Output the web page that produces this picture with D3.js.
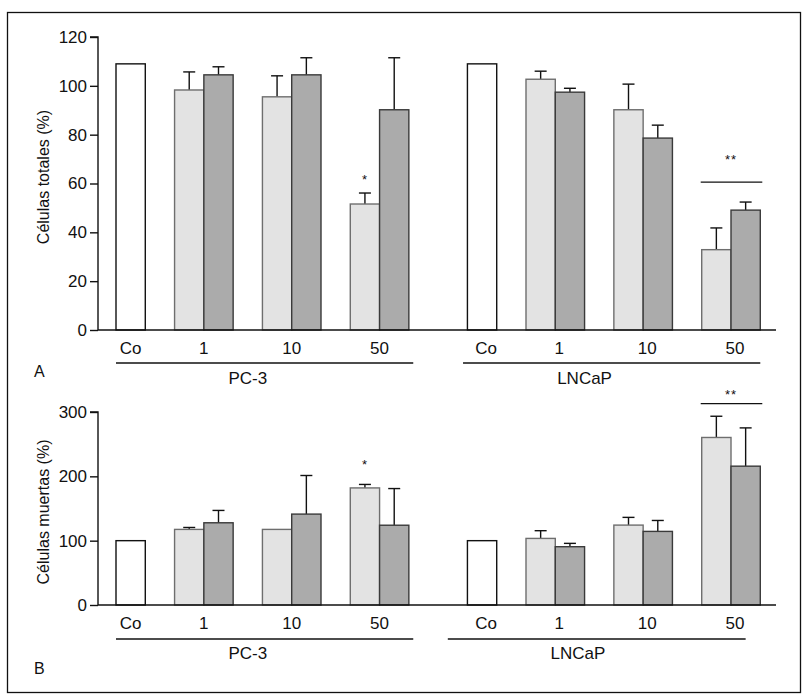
<!DOCTYPE html>
<html><head><meta charset="utf-8">
<script src="https://cdn.jsdelivr.net/npm/d3@7"></script>
<style>body{margin:0;background:#fff}svg{display:block}text{font-family:"Liberation Sans",Arial,sans-serif;fill:#111}</style>
</head><body><svg id="c" width="809" height="700"></svg>
<script>
// ---- data ----
const cellLines = ["PC-3", "LNCaP"];
const doses = ["Co", "1", "10", "50"];
// Panel A: Células totales (%)
const totalControl = [109, 109];
const totalLightPC3 = [98.3, 95.5, 51.6];
const totalLightPC3Err = [7.4, 8.6, 4.5];
const totalDarkPC3 = [104.5, 104.5, 90.2];
const totalDarkPC3Err = [3.3, 7.0, 21.3];
const totalLightLNCaP = [102.7, 90.2, 32.9];
const totalLightLNCaPErr = [3.3, 10.5, 8.9];
const totalDarkLNCaP = [97.4, 78.6, 49.1];
const totalDarkLNCaPErr = [1.6, 5.3, 3.3];
const totalTicks = [0, 20, 40, 60, 80, 100, 120];
// Panel B: Células muertas (%)
const deadControl = [100, 100];
const deadLightPC3 = [117.5, 117.5, 182];
const deadLightPC3Err = [3, 0, 5.4];
const deadDarkPC3 = [127.8, 141.3, 124];
const deadDarkPC3Err = [19.2, 60, 57];
const deadLightLNCaP = [103.5, 124.2, 260.4];
const deadLightLNCaPErr = [12, 12, 33];
const deadDarkLNCaP = [90.6, 114.4, 215.8];
const deadDarkLNCaPErr = [5.2, 17, 59.5];
const deadTicks = [0, 100, 200, 300];

const FS = 17;
const svg = d3.select("#c");
svg.append("rect").attr("x", 7.5).attr("y", 12.5).attr("width", 793).attr("height", 680)
  .attr("fill", "none").attr("stroke", "#111").attr("stroke-width", 1.3);

// slot-based x scale: each bar occupies one slot
const x = d3.scaleLinear().domain([0, 21]).range([116, 731]);
const bw = x(1) - x(0);
function slotOf(line, dose, s) {
  const base = line * 12;
  if (dose === 0) return base;
  return base + 3 * dose - 1 + s;
}
const fills = ["#e3e3e3", "#ababab"];
const strokes = ["#6e6e6e", "#3a3a3a"];

function panel(opt) {
  const y = d3.scaleLinear().domain(opt.domain).range(opt.range);
  const g = svg.append("g");
  const bars = [];
  cellLines.forEach((cl, li) => {
    bars.push({slot: slotOf(li, 0, 0), v: opt.control[li], e: null, fill: "#fff", stroke: "#111"});
    const L = opt.light[li], LE = opt.lightErr[li], D = opt.dark[li], DE = opt.darkErr[li];
    for (let d = 1; d < doses.length; d++) {
      bars.push({slot: slotOf(li, d, 0), v: L[d - 1], e: LE[d - 1], fill: fills[0], stroke: strokes[0]});
      bars.push({slot: slotOf(li, d, 1), v: D[d - 1], e: DE[d - 1], fill: fills[1], stroke: strokes[1]});
    }
  });
  // error bars (upward only)
  bars.filter(b => b.e).forEach(b => {
    const cx = x(b.slot) + bw / 2;
    g.append("line").attr("x1", cx).attr("x2", cx).attr("y1", y(b.v)).attr("y2", y(b.v + b.e))
      .attr("stroke", "#111").attr("stroke-width", 1.4);
    g.append("line").attr("x1", cx - 6).attr("x2", cx + 6).attr("y1", y(b.v + b.e)).attr("y2", y(b.v + b.e))
      .attr("stroke", "#111").attr("stroke-width", 1.4);
  });
  g.selectAll("rect.bar").data(bars).join("rect").attr("class", "bar")
    .attr("x", b => x(b.slot)).attr("width", bw)
    .attr("y", b => y(b.v)).attr("height", b => y(0) - y(b.v))
    .attr("fill", b => b.fill).attr("stroke", b => b.stroke).attr("stroke-width", 1.4);
  // y axis
  const ax = g.append("g").attr("transform", `translate(98,0)`)
    .call(d3.axisLeft(y).tickValues(opt.ticks).tickSize(8).tickPadding(3));
  ax.attr("font-size", FS).attr("font-family", "Liberation Sans, Arial, sans-serif");
  ax.select(".domain").attr("stroke", "#111").attr("stroke-width", 1.4).attr("d", `M-8,${y(opt.domain[1])}H0V${y(0)}`);
  ax.selectAll(".tick line").attr("stroke", "#111").attr("stroke-width", 1.4);
  ax.selectAll(".tick text").attr("fill", "#111");
  // x baseline
  g.append("line").attr("x1", 98).attr("x2", 776).attr("y1", y(0)).attr("y2", y(0))
    .attr("stroke", "#111").attr("stroke-width", 1.4);
  // category labels
  cellLines.forEach((cl, li) => {
    doses.forEach((d, di) => {
      const cx = di === 0 ? x(slotOf(li, 0, 0)) + bw / 2 : x(slotOf(li, di, 1)) + (li ? 4 : 0);
      g.append("text").attr("x", cx + (di === 0 && li ? 4 : 0)).attr("y", opt.catY).attr("text-anchor", "middle")
        .attr("font-size", FS).text(d);
    });
    const ext = opt.groupExt[li];
    g.append("line").attr("x1", x(ext[0])).attr("x2", x(ext[1])).attr("y1", opt.groupLineY).attr("y2", opt.groupLineY)
      .attr("stroke", "#111").attr("stroke-width", 1.3);
    g.append("text").attr("x", x(opt.groupLabelSlot[li])).attr("y", opt.groupLabelY).attr("text-anchor", "middle")
      .attr("font-size", FS).text(cl);
  });
  // y title
  g.append("text").attr("transform", `translate(49,${opt.titleY}) rotate(-90)`).attr("text-anchor", "middle")
    .attr("font-size", 16).text(opt.title);
  // panel letter
  g.append("text").attr("x", 34).attr("y", opt.letterY).attr("font-size", 16).text(opt.letter);
  // significance
  opt.sig.forEach(s => {
    const sx0 = x(slotOf(1 * s.line, 3, 0));
    if (s.bracket != null) {
      g.append("line").attr("x1", sx0 - 1).attr("x2", sx0 + 2 * bw + 2).attr("y1", y(s.bracket)).attr("y2", y(s.bracket))
        .attr("stroke", "#111").attr("stroke-width", 1.3);
    }
    const cx = s.bracket != null ? sx0 + bw : sx0 + bw / 2;
    g.append("text").attr("x", cx).attr("y", y(s.at) + 7).attr("text-anchor", "middle")
      .attr("font-size", 13).attr("letter-spacing", 1).text(s.label);
  });
}

panel({
  domain: [0, 120], range: [330, 37], ticks: totalTicks,
  control: totalControl,
  light: [totalLightPC3, totalLightLNCaP], lightErr: [totalLightPC3Err, totalLightLNCaPErr],
  dark: [totalDarkPC3, totalDarkLNCaP], darkErr: [totalDarkPC3Err, totalDarkLNCaPErr],
  catY: 354, groupLineY: 363, groupLabelY: 384, groupExt: [[0, 10.15], [11.85, 22]], groupLabelSlot: [4.5, 16],
  title: "Células totales (%)", titleY: 177, letter: "A", letterY: 377,
  sig: [{line: 0, label: "*", at: 62.7}, {line: 1, label: "**", at: 70.9, bracket: 60.6}]
});
panel({
  domain: [0, 300], range: [605, 412], ticks: deadTicks,
  control: deadControl,
  light: [deadLightPC3, deadLightLNCaP], lightErr: [deadLightPC3Err, deadLightLNCaPErr],
  dark: [deadDarkPC3, deadDarkLNCaP], darkErr: [deadDarkPC3Err, deadDarkLNCaPErr],
  catY: 629, groupLineY: 639, groupLabelY: 659, groupExt: [[0, 10.15], [11.33, 21.5]], groupLabelSlot: [4.5, 15.77],
  title: "Células muertas (%)", titleY: 512, letter: "B", letterY: 674,
  sig: [{line: 0, label: "*", at: 222.5}, {line: 1, label: "**", at: 331, bracket: 313}]
});
</script></body></html>
